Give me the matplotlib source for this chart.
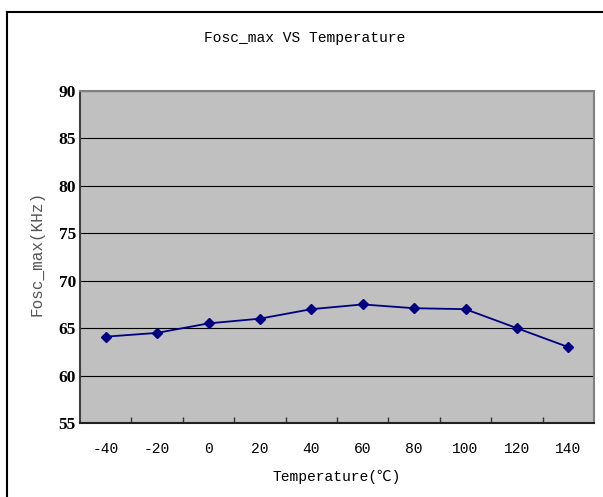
import matplotlib.pyplot as plt
from matplotlib.lines import Line2D

# Fosc_max readings vs temperature
temps = [-40, -20, 0, 20, 40, 60, 80, 100, 120, 140]
fosc = [64.1, 64.5, 65.5, 66.0, 67.0, 67.5, 67.1, 67.0, 65.0, 63.0]
y_ticks = [55, 60, 65, 70, 75, 80, 85, 90]

mono = ['Liberation Mono', 'Noto Sans CJK SC']

fig = plt.figure(figsize=(6.03, 4.97), dpi=100)
ax = fig.add_axes([80 / 603, 1 - 423 / 497, 514 / 603, 332 / 497])
ax.set_facecolor('#c0c0c0')

pos = list(range(len(temps)))
ax.plot(pos, fosc, color='#000080', lw=1.3, marker='D', ms=5.5,
        markerfacecolor='#000080', markeredgecolor='#000080', zorder=3)

ax.set_xlim(-0.5, len(temps) - 0.5)
ax.set_ylim(55, 90)

# category ticks sit between the points, labels under the points
ax.set_xticks([p + 0.5 for p in pos[:-1]])
ax.set_xticklabels([])
ax.tick_params(axis='x', which='major', direction='in', length=4, width=1, color='#333333')
ax.set_xticks(pos, minor=True)
ax.set_xticklabels([str(t) for t in temps], minor=True, family=mono, fontsize=10.5)
ax.tick_params(axis='x', which='minor', length=0, pad=14)

ax.set_yticks(y_ticks)
ax.set_yticklabels([str(v) for v in y_ticks], family='Liberation Serif',
                   fontweight='bold', fontsize=12.5)
ax.tick_params(axis='y', length=0, pad=3)
ax.yaxis.grid(True, color='black', lw=0.8)
ax.set_axisbelow(True)

for side in ['top', 'right']:
    ax.spines[side].set_color('#808080')
    ax.spines[side].set_linewidth(1.5)
ax.spines['left'].set_color('#404040')
ax.spines['left'].set_linewidth(1.5)
ax.spines['bottom'].set_color('#202020')
ax.spines['bottom'].set_linewidth(1.5)

fig.text(305 / 603, 1 - 38 / 497, 'Fosc_max VS Temperature', family=mono,
         fontsize=10.5, ha='center', va='center')
fig.text(337 / 603, 1 - 477 / 497, 'Temperature(℃)', family=mono,
         fontsize=10.5, ha='center', va='center')
fig.text(37 / 603, 1 - 253 / 497, 'Fosc_max(KHz)', family=mono, color='#555555',
         fontsize=11.5, rotation=90, ha='center', va='center')

# outer frame of the chart object
x0, y0 = 7 / 603, 1 - 12 / 497
fig.add_artist(Line2D([x0, x0], [0, y0], color='black', lw=1.5, transform=fig.transFigure))
fig.add_artist(Line2D([x0, 1], [y0, y0], color='black', lw=1.5, transform=fig.transFigure))

fig.savefig('out.png', dpi=100)
